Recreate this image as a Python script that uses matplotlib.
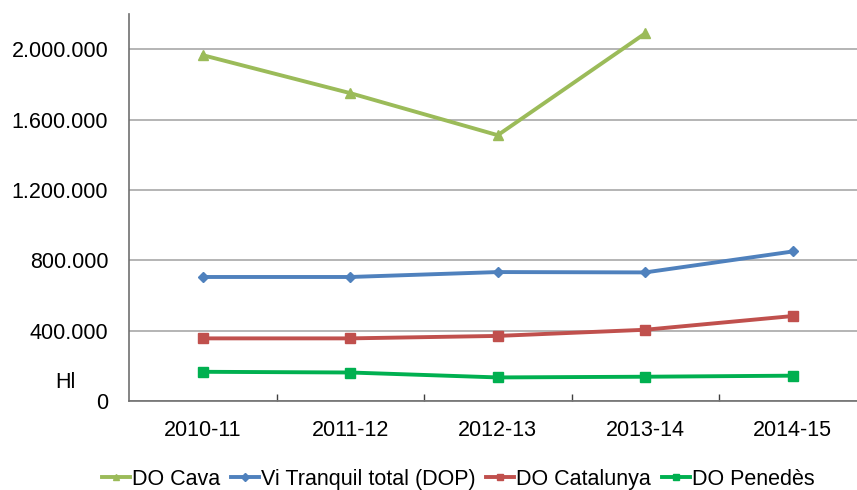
import matplotlib
matplotlib.use('Agg')
import matplotlib.pyplot as plt
from matplotlib.ticker import FuncFormatter, FixedLocator

plt.rcParams['font.family'] = ['Liberation Sans', 'DejaVu Sans']

campanyes = ['2010-11', '2011-12', '2012-13', '2013-14', '2014-15']
do_cava = [1966000, 1750000, 1511000, 2090000]
vi_tranquil = [705000, 705000, 733000, 731000, 850000]
do_catalunya = [356000, 356000, 370000, 405000, 483000]
do_penedes = [166000, 162000, 134000, 138000, 144000]

fig = plt.figure(figsize=(8.57, 4.90), dpi=100)
ax = fig.add_axes([129 / 857, 1 - 401 / 490, 737.5 / 857, 387 / 490])

x = list(range(len(campanyes)))

ax.plot(x[:len(do_cava)], do_cava, color='#9BBB59', lw=2.8, marker='^', ms=7, label='DO Cava')
ax.plot(x, vi_tranquil, color='#4F81BD', lw=2.8, marker='D', ms=5.5, label='Vi Tranquil total (DOP)')
ax.plot(x, do_catalunya, color='#C0504D', lw=2.8, marker='s', ms=6.5, label='DO Catalunya')
ax.plot(x, do_penedes, color='#00B050', lw=2.8, marker='s', ms=6.5, label='DO Penedès')

ax.set_xlim(-0.5, len(campanyes) - 0.5)
ax.set_ylim(0, 2200000)

# eix y: ticks cada 400.000 amb punt de milers
ax.set_yticks(range(0, 2000001, 400000))
ax.yaxis.set_major_formatter(FuncFormatter(lambda v, p: f'{int(v):,}'.replace(',', '.')))
ax.grid(axis='y', color='#A0A0A0', lw=1.1)
ax.set_axisbelow(True)

ax.set_xticks(x)
ax.set_xticklabels(campanyes)
ax.xaxis.set_minor_locator(FixedLocator([i + 0.5 for i in range(len(campanyes))]))
ax.tick_params(axis='x', which='major', length=0, pad=14, labelsize=15.5)
ax.tick_params(axis='x', which='minor', direction='in', length=5, color='#404040', width=1)
ax.tick_params(axis='y', length=0, pad=15, labelsize=15.5)

for s in ['top', 'right']:
    ax.spines[s].set_visible(False)
for s in ['left', 'bottom']:
    ax.spines[s].set_color('#6F6F6F')
    ax.spines[s].set_linewidth(1.2)

fig.text(65 / 857, 1 - 382 / 490, 'Hl', fontsize=15.5, ha='center', va='center')

fig.legend(loc='center', bbox_to_anchor=(458 / 857, 1 - 479 / 490), ncol=4, frameon=False,
           handlelength=1.3, handletextpad=0.1, columnspacing=0.5, markerscale=0.7,
           borderpad=0, prop={'family': 'Liberation Sans', 'size': 15.5})

fig.savefig('out.png', dpi=100)
